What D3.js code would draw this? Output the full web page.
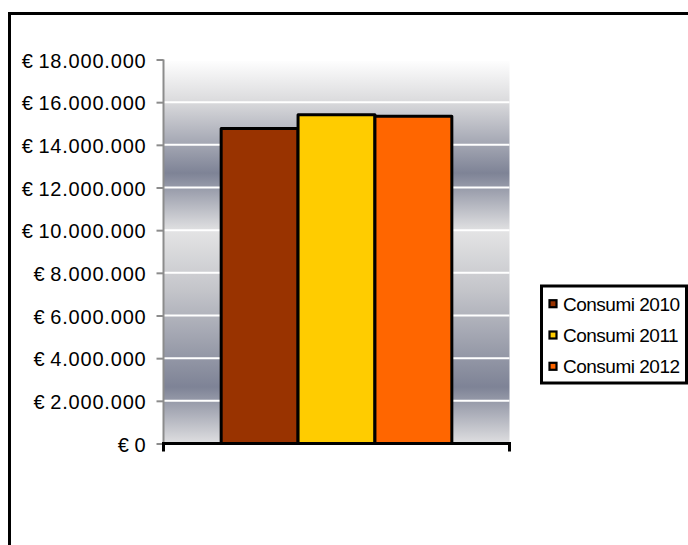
<!DOCTYPE html>
<html>
<head>
<meta charset="utf-8">
<script src="https://cdn.jsdelivr.net/npm/d3@7"></script>
<style>
  html, body { margin: 0; padding: 0; background: #fff; }
  svg { display: block; font-family: "Liberation Sans", Arial, sans-serif; }
</style>
</head>
<body>
<svg id="chart" width="688" height="545"></svg>
<script>
// Annual consumption, one bar per year
const categories = [""];
const seriesNames = ["Consumi 2010", "Consumi 2011", "Consumi 2012"];
const seriesValues = [14760000, 15410000, 15340000];
const seriesColors = ["#993300", "#FFCC00", "#FF6600"];
const yTicks = [0, 2000000, 4000000, 6000000, 8000000, 10000000, 12000000, 14000000, 16000000, 18000000];

const svg = d3.select("#chart");

// Italian currency format: € 18.000.000
const it = d3.formatLocale({ decimal: ",", thousands: ".", grouping: [3], currency: ["€\u2009", ""] });
const fmt = it.format("$,.0f");

const plot = { left: 163.5, right: 509.5, top: 59.5, bottom: 443.5 };

const y = d3.scaleLinear().domain([0, 18000000]).range([plot.bottom, plot.top]);
const x0 = d3.scaleBand().domain(categories).range([plot.left, plot.right]).padding(0);
const x1 = d3.scaleBand().domain(seriesNames).range([0, x0.bandwidth()])
  .paddingInner(0).paddingOuter(0.75);

// Outer chart frame
svg.append("rect")
  .attr("x", 9.5).attr("y", 13.5).attr("width", 720).attr("height", 620)
  .attr("fill", "#fff").attr("stroke", "#000").attr("stroke-width", 3);

// Plot-area background gradient
const defs = svg.append("defs");
const grad = defs.append("linearGradient")
  .attr("id", "plotBg").attr("gradientUnits", "userSpaceOnUse")
  .attr("x1", 0).attr("x2", 0).attr("y1", plot.top).attr("y2", plot.bottom);
[[0, "#ffffff"], [0.105, "#dcdcde"], [0.296, "#7e8396"], [0.449, "#e3e3e4"],
 [0.6, "#c4c5ca"], [0.853, "#7e8396"], [1, "#dfdfe1"]]
  .forEach(([o, c]) => grad.append("stop").attr("offset", o).attr("stop-color", c));

svg.append("rect")
  .attr("x", plot.left).attr("y", plot.top)
  .attr("width", plot.right - plot.left).attr("height", plot.bottom - plot.top)
  .attr("fill", "url(#plotBg)");

// White horizontal gridlines
svg.append("g").selectAll("line")
  .data(yTicks.filter(d => d > 0))
  .join("line")
  .attr("x1", plot.left).attr("x2", plot.right)
  .attr("y1", d => y(d)).attr("y2", d => y(d))
  .attr("stroke", "#fff").attr("stroke-width", 2);

// Y axis (grey) with outward ticks
const yAxis = d3.axisLeft(y).tickValues(yTicks).tickSize(7).tickPadding(10).tickFormat(fmt);
const gy = svg.append("g").attr("transform", `translate(${plot.left},0)`).call(yAxis);
gy.select(".domain").attr("stroke", "#8c8c8c").attr("stroke-width", 2)
  .attr("d", `M0,${plot.bottom}V${plot.top}`);
gy.selectAll(".tick line").attr("stroke", "#8c8c8c").attr("stroke-width", 2);
gy.selectAll(".tick text")
  .attr("font-size", 20).attr("fill", "#000")
  .attr("font-family", "'Liberation Sans', Arial, sans-serif")
  .style("letter-spacing", "0.8px")
  .attr("dy", "0.38em");

// Bars
const groups = svg.append("g").selectAll("g")
  .data(categories)
  .join("g")
  .attr("transform", d => `translate(${x0(d)},0)`);

groups.selectAll("rect")
  .data(() => seriesNames.map((s, i) => ({ s, v: seriesValues[i], c: seriesColors[i] })))
  .join("rect")
  .attr("x", d => x1(d.s))
  .attr("y", d => y(d.v))
  .attr("width", x1.bandwidth())
  .attr("height", d => y(0) - y(d.v))
  .attr("fill", d => d.c)
  .attr("stroke", "#000").attr("stroke-width", 3)
  .attr("stroke-linejoin", "round");

// X axis (black) with end ticks
const gx = svg.append("g").attr("transform", `translate(0,${plot.bottom})`)
  .call(d3.axisBottom(x0).tickSize(0).tickFormat(""));
gx.select(".domain")
  .attr("stroke", "#000").attr("stroke-width", 3)
  .attr("d", `M${plot.left},8V0H${plot.right}V8`);

// Legend
const lg = svg.append("g");
lg.append("rect")
  .attr("x", 541.5).attr("y", 286).attr("width", 145).attr("height", 97)
  .attr("fill", "#fff").attr("stroke", "#000").attr("stroke-width", 3);

const items = lg.selectAll("g.item")
  .data(seriesNames)
  .join("g").attr("class", "item")
  .attr("transform", (d, i) => `translate(0,${303.7 + i * 31.3})`);

items.append("rect")
  .attr("x", 549.5).attr("y", -3.5).attr("width", 7).attr("height", 7)
  .attr("fill", (d, i) => seriesColors[i])
  .attr("stroke", "#000").attr("stroke-width", 2.2);

items.append("text")
  .attr("x", 563).attr("y", 7)
  .attr("font-size", 19)
  .style("letter-spacing", "-0.5px")
  .attr("fill", "#000")
  .text(d => d);
</script>
</body>
</html>
